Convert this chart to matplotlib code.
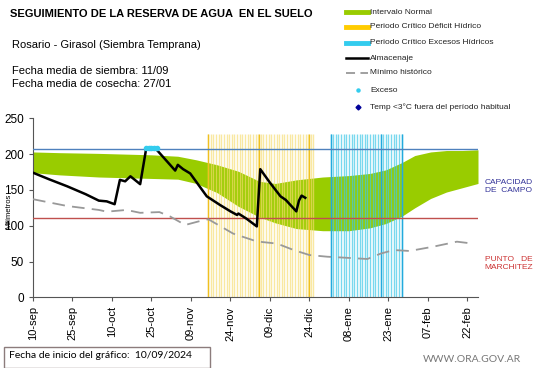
import numpy as np
import matplotlib
matplotlib.use("Agg")
import matplotlib.pyplot as plt
from matplotlib.lines import Line2D
from matplotlib.patches import Rectangle

plt.rcParams['font.family'] = ['Liberation Sans', 'DejaVu Sans']

# días desde el 10/09/2024
tick_days = [0, 15, 30, 45, 60, 75, 90, 105, 120, 135, 150, 165]
tick_labels = ['10-sep', '25-sep', '10-oct', '25-oct', '09-nov', '24-nov',
               '09-dic', '24-dic', '08-ene', '23-ene', '07-feb', '22-feb']

# intervalo normal (banda verde)
band_days = [0, 10, 25, 45, 55, 62, 70, 78, 86, 92, 100, 110, 120, 128, 134, 140, 145, 151, 157, 163, 169]
band_top = [203, 202, 201, 199, 197, 192, 185, 176, 162, 159, 164, 168, 170, 173, 178, 188, 198, 203, 205, 205, 206]
band_bot = [174, 171, 168, 166, 165, 159, 146, 127, 112, 104, 96, 93, 93, 97, 103, 113, 125, 138, 147, 153, 159]

# almacenaje
alm_days = [0, 6, 13, 20, 25, 28, 31, 33, 35, 37, 40.7, 43, 46.5, 54, 55, 57, 59.7, 66, 71,
            75, 77.5, 78, 81, 85, 86.3, 90, 94, 96, 100, 101, 102, 103.4]
alm_vals = [174, 165, 155, 144, 135, 134, 130, 164, 162, 169, 158, 208, 208, 177, 185, 179, 173, 141, 129,
            120, 115, 117, 110, 99, 179, 160, 141, 136, 120, 135, 142, 139]

# mínimo histórico
min_days = [0, 13, 25, 28, 35.5, 40.7, 48, 52, 57.8, 63.5, 66.6, 76, 85, 92.7, 99, 105, 111.7,
            120, 127, 132, 137, 143, 152, 161, 167]
min_vals = [137, 127.5, 122, 119.6, 122, 118, 119, 113, 101, 106.6, 109, 89, 78, 75, 66, 59, 56.7,
            55, 53.5, 61, 66, 64.7, 70.7, 77.7, 75]

# exceso
exc_days = [43, 44, 45, 46, 47]
exc_vals = [208, 208, 208, 208, 208]

# periodos críticos
deficit_start, deficit_end = 66.5, 107
exceso_start, exceso_end = 113, 140
periodo_top = 228

capacidad_campo = 207
punto_marchitez = 111

fig = plt.figure(figsize=(5.41, 3.68), dpi=100)
ax = fig.add_axes([33 / 541, 1 - 297.3 / 368, (478 - 33) / 541, (297.3 - 118.3) / 368])

ax.fill_between(band_days, band_bot, band_top, color='#99CC00', lw=0, zorder=1)

d_days = np.arange(deficit_start, deficit_end + 0.1, 1.0)
ax.vlines(d_days, 0, periodo_top, colors='#F7DC6F', lw=1.0, alpha=0.65, zorder=2)
ax.vlines([deficit_start, 86, deficit_end - 2], 0, periodo_top, colors='#F0C020', lw=1.0, zorder=2)

e_days = np.arange(exceso_start, exceso_end + 0.1, 1.0)
ax.vlines(e_days, 0, periodo_top, colors='#40C8E8', lw=1.0, alpha=0.7, zorder=2)
ax.vlines([exceso_start, 132, exceso_end], 0, periodo_top, colors='#22AADD', lw=1.0, zorder=2)

ax.axhline(capacidad_campo, color='#4F81BD', lw=1.0, zorder=3)
ax.axhline(punto_marchitez, color='#C0504D', lw=1.0, zorder=3)

ax.plot(min_days, min_vals, color='#999999', lw=1.3, ls=(0, (7, 4)), zorder=4)
ax.plot(alm_days, alm_vals, color='black', lw=1.8, zorder=5)
ax.plot(exc_days, exc_vals, 'o', color='#33CCEE', ms=3, zorder=6)

ax.set_xlim(0, 169)
ax.set_ylim(0, 250)
ax.set_xticks(tick_days)
ax.set_xticklabels(tick_labels, rotation=90, fontsize=8)
ax.set_yticks([0, 50, 100, 150, 200, 250])
ax.tick_params(axis='y', labelsize=8.5, length=3, color='#555555')
ax.tick_params(axis='x', length=3, color='#555555')
for s in ['top', 'right']:
    ax.spines[s].set_visible(False)
for s in ['left', 'bottom']:
    ax.spines[s].set_color('#555555')
ax.text(-0.055, 0.48, 'Milímetros', transform=ax.transAxes, rotation=90,
        fontsize=5.5, ha='center', va='center')

ax.text(1.015, 0.62, 'CAPACIDAD\nDE  CAMPO', transform=ax.transAxes, fontsize=6,
        color='#333399', va='center', ha='left', linespacing=1.3)
ax.text(1.015, 0.19, 'PUNTO   DE\nMARCHITEZ', transform=ax.transAxes, fontsize=6,
        color='#CC3333', va='center', ha='left', linespacing=1.3)

# textos superiores
fig.text(10 / 541, 1 - 14 / 368, 'SEGUIMIENTO DE LA RESERVA DE AGUA  EN EL SUELO',
         fontsize=8, fontweight='bold', va='center')
fig.text(12 / 541, 1 - 45 / 368, 'Rosario - Girasol (Siembra Temprana)', fontsize=8, va='center')
fig.text(12 / 541, 1 - 71 / 368, 'Fecha media de siembra: 11/09', fontsize=8, va='center')
fig.text(12 / 541, 1 - 84 / 368, 'Fecha media de cosecha: 27/01', fontsize=8, va='center')

# leyenda manual
rows = [12, 27, 43, 58, 73, 90, 107]
lx0, lx1, tx = 346 / 541, 368 / 541, 370 / 541
fy = lambda y: 1 - y / 368
fig.add_artist(Line2D([lx0, lx1], [fy(rows[0])] * 2, color='#99CC00', lw=3.5))
fig.add_artist(Line2D([lx0, lx1], [fy(rows[1])] * 2, color='#FFCC00', lw=3.5))
fig.add_artist(Line2D([lx0, lx1], [fy(rows[2])] * 2, color='#33CCEE', lw=3.5))
fig.add_artist(Line2D([lx0, lx1], [fy(rows[3])] * 2, color='black', lw=1.8))
fig.add_artist(Line2D([lx0, lx1], [fy(rows[4])] * 2, color='#999999', lw=1.3, ls=(0, (5, 3))))
fig.add_artist(Line2D([358 / 541], [fy(rows[5])], marker='o', ms=2.2, color='#33CCEE'))
fig.add_artist(Line2D([358 / 541], [fy(rows[6])], marker='D', ms=2.5, color='#000099'))
leg_txt = ['Intervalo Normal', 'Periodo Crítico Déficit Hídrico', 'Periodo Crítico Excesos Hídricos',
           'Almacenaje', 'Mínimo histórico', 'Exceso', 'Temp <3°C fuera del período habitual']
for y, t in zip(rows, leg_txt):
    fig.text(tx, fy(y), t, fontsize=6, va='center', color='#222222')

# pie
fig.add_artist(Rectangle((3.5 / 541, 0.5 / 368), (210 - 3.5) / 541, 21 / 368,
                         transform=fig.transFigure, fill=False, ec='#8C7C7C', lw=1.0))
fig.text(9 / 541, 1 - 356 / 368, 'Fecha de inicio del gráfico:  10/09/2024',
         fontsize=7.5, va='center', family=['Lato', 'DejaVu Sans'])
fig.text(423 / 541, 1 - 359 / 368, 'WWW.ORA.GOV.AR', fontsize=7.5, va='center',
         color='#777777', family=['Lato', 'DejaVu Sans'])

fig.savefig('out.png', dpi=100)
